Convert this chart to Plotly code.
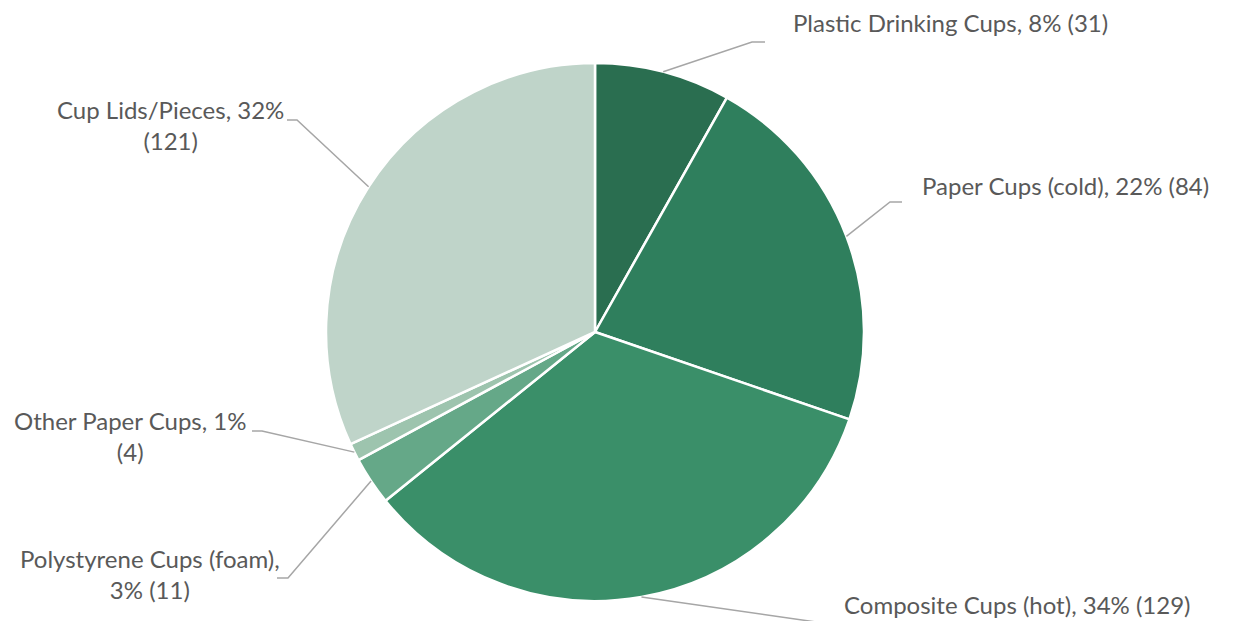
import math
import plotly.graph_objects as go

# ---- data ----
categories = ["Plastic Drinking Cups", "Paper Cups (cold)", "Composite Cups (hot)",
              "Polystyrene Cups (foam)", "Other Paper Cups", "Cup Lids/Pieces"]
counts = [31, 84, 129, 11, 4, 121]
percents = [8, 22, 34, 3, 1, 32]
label_texts = [
    "Plastic Drinking Cups, 8% (31)",
    "Paper Cups (cold), 22% (84)",
    "Composite Cups (hot), 34% (129)",
    "Polystyrene Cups (foam),<br>3% (11)",
    "Other Paper Cups, 1%<br>(4)",
    "Cup Lids/Pieces, 32%<br>(121)",
]
colors = ["#2A6E50", "#2F7F5D", "#3A8F69", "#65A888", "#9DC4AE", "#BFD4C9"]

# ---- layout constants (pixels in the browser window) ----
OFF = 8                      # default page margin of the html body
W, H = 1233 - OFF, 621 - OFF
CX, CY, R = 595, 332, 269
label_pos = [(950, 22), (1065, 186), (1017, 604), (150, 574), (130, 436), (170, 125)]
elbows = [[(752, 42), (765, 42)],
          [(890, 202), (902, 202)],
          [(830, 624)],
          [(288, 578), (277, 578)],
          [(262, 431), (252, 431)],
          [(297, 120), (287, 120)]]

def px(x):
    return (x - OFF) / W

def py(y):
    return 1 - (y - OFF) / H

fig = go.Figure(go.Pie(
    labels=categories, values=counts, sort=False, direction="clockwise", rotation=0,
    marker=dict(colors=colors, line=dict(color="white", width=2.5)),
    textinfo="none", hoverinfo="label+value+percent", showlegend=False,
    domain=dict(x=[px(CX - R), px(CX + R)], y=[py(CY + R), py(CY - R)]),
))

total = sum(counts)
cum = 0
shapes = []
annotations = []
for i, v in enumerate(counts):
    mid = (cum + v / 2) / total * 2 * math.pi
    cum += v
    ex = CX + R * math.sin(mid)
    ey = CY - R * math.cos(mid)
    pts = [(ex, ey)] + elbows[i]
    path = "M " + " L ".join(f"{px(x):.5f},{py(y):.5f}" for x, y in pts)
    shapes.append(dict(type="path", path=path, xref="paper", yref="paper",
                       line=dict(color="#A6A6A6", width=1.5)))
    lx, ly = label_pos[i]
    annotations.append(dict(text=label_texts[i], x=px(lx), y=py(ly), xref="paper", yref="paper",
                            xanchor="center", yanchor="middle", showarrow=False, align="center",
                            font=dict(family="Lato", size=24, color="#595959")))

fig.update_layout(
    width=W, height=H, margin=dict(l=0, r=0, t=0, b=0),
    paper_bgcolor="white", plot_bgcolor="white",
    shapes=shapes, annotations=annotations,
)
fig.write_html("out.html")
